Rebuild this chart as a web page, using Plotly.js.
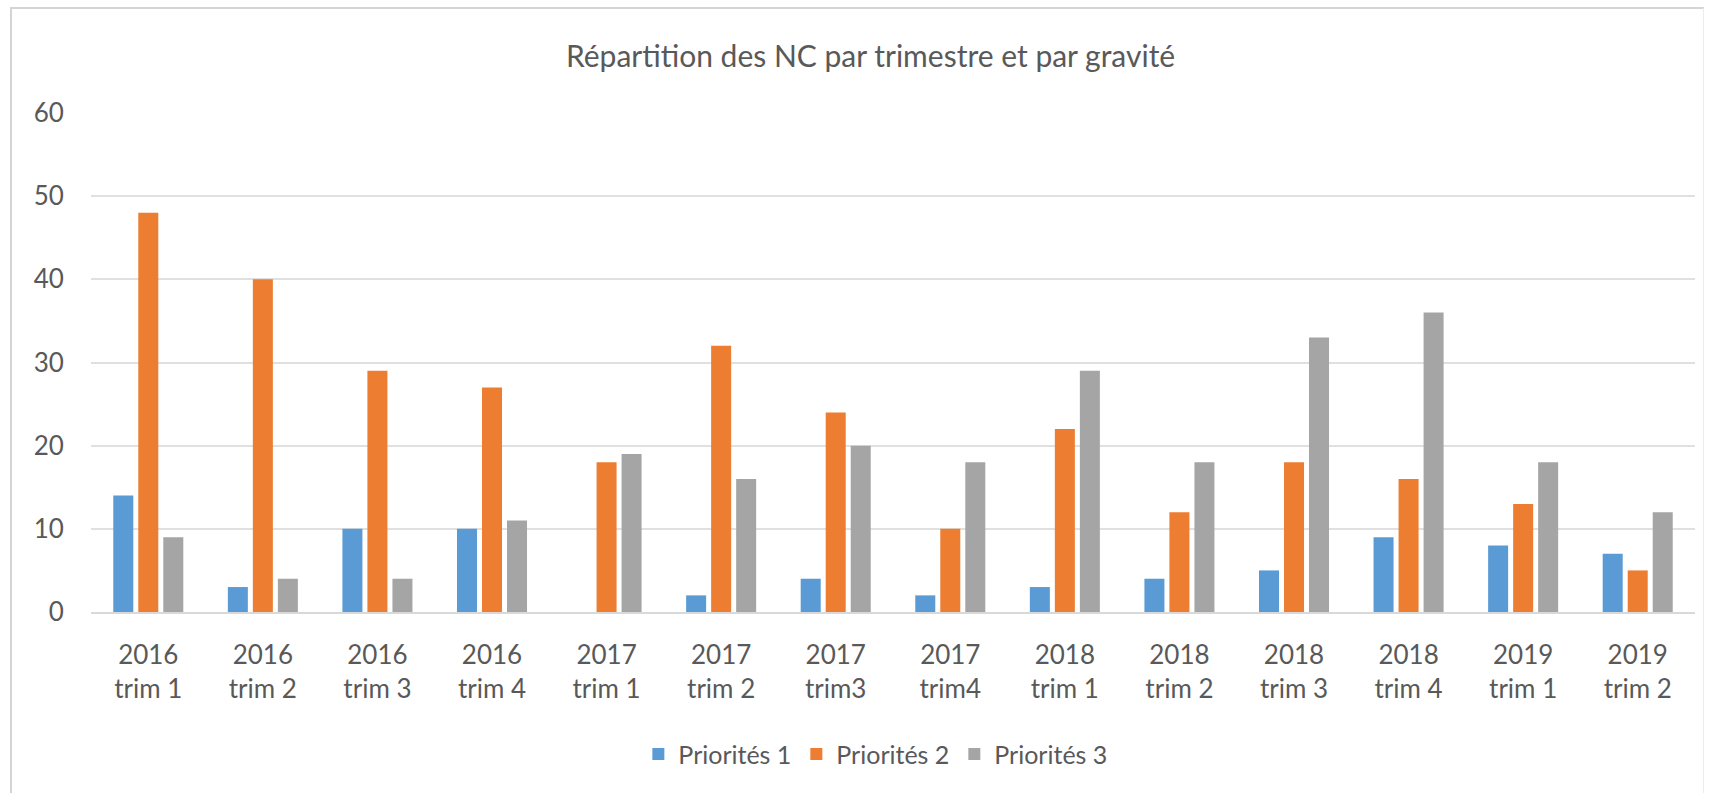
<!DOCTYPE html>
<html>
<head>
<meta charset="utf-8">
<script src="https://cdn.plot.ly/plotly-3.0.1.min.js"></script>
<style>
  html, body { margin: 0; padding: 0; background: #ffffff; }
  #wrap { position: relative; width: 1709px; height: 793px; overflow: hidden; }
  #frame { position: absolute; left: 10px; top: 7px; width: 1691px; height: 820px;
           border-left: 2px solid #d4d4d4; border-top: 2px solid #d4d4d4; border-right: 1px solid #ececec;
           pointer-events: none; }
  #chart { position: absolute; left: 0; top: 0; width: 1709px; height: 793px; }
</style>
</head>
<body>
<div id="wrap">
  <div id="frame"></div>
  <div id="chart"></div>
</div>
<script>
const categories = [
  "2016<br>trim 1", "2016<br>trim 2", "2016<br>trim 3", "2016<br>trim 4",
  "2017<br>trim 1", "2017<br>trim 2", "2017<br>trim3", "2017<br>trim4",
  "2018<br>trim 1", "2018<br>trim 2", "2018<br>trim 3", "2018<br>trim 4",
  "2019<br>trim 1", "2019<br>trim 2"
];
const priorites1 = [14, 3, 10, 10, 0, 2, 4, 2, 3, 4, 5, 9, 8, 7];
const priorites2 = [48, 40, 29, 27, 18, 32, 24, 10, 22, 12, 18, 16, 13, 5];
const priorites3 = [9, 4, 4, 11, 19, 16, 20, 18, 29, 18, 33, 36, 18, 12];
const seriesNames = ["Priorités 1", "Priorités 2", "Priorités 3"];
const seriesColors = ["#5B9BD5", "#ED7D31", "#A5A5A5"];
const yTicks = [0, 10, 20, 30, 40, 50, 60];

const values = [priorites1, priorites2, priorites3];
const traces = values.map((v, i) => ({
  type: "bar",
  name: seriesNames[i],
  x: categories,
  y: v,
  marker: { color: seriesColors[i] },
  hoverinfo: "x+y+name"
}));

const font = "Lato, 'Open Sans', sans-serif";
const layout = {
  width: 1709,
  height: 793,
  paper_bgcolor: "rgba(0,0,0,0)",
  plot_bgcolor: "rgba(0,0,0,0)",
  margin: { l: 91, r: 14, t: 113, b: 181 },
  barmode: "group",
  bargap: 0.345,
  bargroupgap: 0.2,
  title: {
    text: "Répartition des NC par trimestre et par gravité",
    font: { family: font, size: 30, color: "#595959" },
    xref: "paper",
    x: 0.486, xanchor: "center",
    yref: "container",
    y: 1 - 56 / 793, yanchor: "middle"
  },
  font: { family: font, color: "#595959" },
  xaxis: {
    type: "category",
    tickfont: { family: font, size: 26, color: "#595959" },
    showgrid: false,
    showline: true,
    linecolor: "#d9d9d9",
    linewidth: 1.5,
    ticks: "outside",
    ticklen: 19,
    tickcolor: "rgba(0,0,0,0)",
    zeroline: false
  },
  yaxis: {
    range: [0, 60],
    tickvals: yTicks,
    ticktext: yTicks.map(String),
    tickfont: { family: font, size: 26, color: "#595959" },
    showgrid: true,
    gridcolor: "#e0e0e0",
    gridwidth: 1.5,
    zeroline: false,
    showline: false,
    ticks: "outside",
    ticklen: 21,
    tickcolor: "rgba(0,0,0,0)"
  },
  showlegend: true,
  legend: {
    orientation: "h",
    x: 0.489, xanchor: "center",
    y: -0.285, yanchor: "middle",
    font: { family: font, size: 25, color: "#595959" },
    traceorder: "normal",
    itemwidth: 30
  }
};

Plotly.newPlot("chart", traces, layout, { displayModeBar: false });
</script>
</body>
</html>
